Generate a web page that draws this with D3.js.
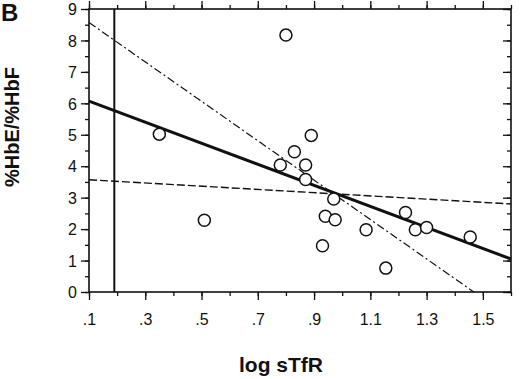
<!DOCTYPE html>
<html>
<head>
<meta charset="utf-8">
<script src="https://cdn.jsdelivr.net/npm/d3@7"></script>
<style>
  body { margin: 0; background: #fff; }
  text { font-family: "Liberation Sans", Arial, sans-serif; fill: #111; }
</style>
</head>
<body>
<svg id="chart" width="520" height="379"></svg>
<script>
(function(){
  // scatter points (log sTfR, %HbE/%HbF)
  var logSTfR = [0.35, 0.51, 0.80, 0.89, 0.83, 0.78, 0.87, 0.87, 0.97, 0.94, 0.975, 0.93, 1.085, 1.155, 1.225, 1.26, 1.30, 1.455]
  var ratio   = [5.02, 2.28, 8.17, 4.98, 4.46, 4.04, 4.04, 3.58, 2.96, 2.41, 2.30, 1.47, 1.98, 0.76, 2.53, 1.98, 2.05, 1.75]

  // fitted lines, given as [x0, y0, x1, y1]
  var fitSolid   = [0.1, 6.07, 1.6, 1.05]
  var fitDashDot = [0.1, 8.57, 1.468, 0.0]
  var fitDashed  = [0.1, 3.57, 1.6, 2.80]
  var cutoffX = 0.19

  var xTicks = [0.1, 0.3, 0.5, 0.7, 0.9, 1.1, 1.3, 1.5]
  var xTickLabels = ['.1', '.3', '.5', '.7', '.9', '1.1', '1.3', '1.5']
  var yTicks = [0, 1, 2, 3, 4, 5, 6, 7, 8, 9]

  var svg = d3.select('#chart')
  var left = 89, right = 511, top = 9, bottom = 292

  var x = d3.scaleLinear().domain([0.1, 1.6]).range([left, right])
  var y = d3.scaleLinear().domain([0, 9]).range([bottom, top])

  var minorX = d3.range(0.1, 1.61, 0.1)
  var minorY = d3.range(0, 9.01, 0.5)

  // frame
  svg.append('rect')
    .attr('x', left).attr('y', top)
    .attr('width', right - left).attr('height', bottom - top)
    .attr('fill', 'none').attr('stroke', '#111').attr('stroke-width', 1.6)

  // bottom axis
  var gb = svg.append('g').attr('transform', 'translate(0,' + bottom + ')')
    .call(d3.axisBottom(x).tickValues(minorX).tickSize(4).tickFormat(''))
  gb.append('g').call(d3.axisBottom(x).tickValues(xTicks).tickSize(8)
    .tickFormat(function(d, i){ return xTickLabels[i] }))
  gb.selectAll('.domain').remove()
  gb.selectAll('text').attr('dy', 0).attr('y', 33).style('font-size', '16px').attr('fill', '#111')

  // top axis
  var gt = svg.append('g').attr('transform', 'translate(0,' + top + ')')
    .call(d3.axisTop(x).tickValues(minorX).tickSize(4).tickFormat(''))
  gt.append('g').call(d3.axisTop(x).tickValues(xTicks).tickSize(8).tickFormat(''))
  gt.selectAll('.domain').remove()

  // left axis
  var gl = svg.append('g').attr('transform', 'translate(' + left + ',0)')
    .call(d3.axisLeft(y).tickValues(minorY).tickSize(4).tickFormat(''))
  gl.append('g').call(d3.axisLeft(y).tickValues(yTicks).tickSize(8))
  gl.selectAll('.domain').remove()
  gl.selectAll('text').attr('x', -12).attr('dy', '0.36em').style('font-size', '16px').attr('fill', '#111')

  // right axis, ticks inward
  var gr = svg.append('g').attr('transform', 'translate(' + right + ',0)')
    .call(d3.axisRight(y).tickValues(minorY).tickSize(-4).tickFormat(''))
  gr.append('g').call(d3.axisRight(y).tickValues(yTicks).tickSize(-8).tickFormat(''))
  gr.selectAll('.domain').remove()

  svg.selectAll('.tick line').attr('stroke', '#111').attr('stroke-width', 1.3)

  // cutoff vertical line
  svg.append('line')
    .attr('x1', x(cutoffX)).attr('x2', x(cutoffX))
    .attr('y1', y(9)).attr('y2', y(0))
    .attr('stroke', '#111').attr('stroke-width', 2)

  function fit(f, width, dash) {
    svg.append('line')
      .attr('x1', x(f[0])).attr('y1', y(f[1]))
      .attr('x2', x(f[2])).attr('y2', y(f[3]))
      .attr('stroke', '#111').attr('stroke-width', width)
      .attr('stroke-dasharray', dash)
  }
  fit(fitDashDot, 1.2, '8,3,2,3')
  fit(fitDashed, 1.4, '8,3')
  fit(fitSolid, 3, null)

  // points
  svg.append('g').selectAll('circle')
    .data(logSTfR)
    .enter().append('circle')
    .attr('cx', function(d){ return x(d) })
    .attr('cy', function(d, i){ return y(ratio[i]) })
    .attr('r', 6)
    .attr('fill', '#fff').attr('stroke', '#111').attr('stroke-width', 1.5)

  // titles
  svg.append('text').attr('x', 1).attr('y', 21)
    .style('font-size', '24px').style('font-weight', 'bold').text('B')

  svg.append('text')
    .attr('transform', 'translate(19,127) rotate(-90)')
    .attr('text-anchor', 'middle')
    .style('font-size', '20px').style('font-weight', 'bold')
    .text('%HbE/%HbF')

  svg.append('text').attr('x', 281).attr('y', 372)
    .attr('text-anchor', 'middle')
    .style('font-size', '21px').style('font-weight', 'bold')
    .text('log sTfR')
})()
</script>
</body>
</html>
